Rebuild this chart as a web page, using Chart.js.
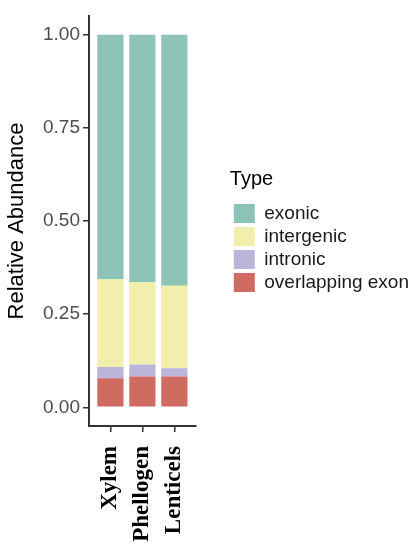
<!DOCTYPE html>
<html>
<head>
<meta charset="utf-8">
<script src="https://cdn.jsdelivr.net/npm/chart.js@4.4.1/dist/chart.umd.min.js"></script>
<style>
  html, body { margin: 0; padding: 0; background: #fff; }
  canvas { display: block; }
</style>
</head>
<body>
<canvas id="typeChart" width="419" height="546"></canvas>
<script>
// Data (fractions per tissue)
const tissues = ["Xylem", "Phellogen", "Lenticels"];
const exonic = [0.656, 0.664, 0.674];
const intergenic = [0.236, 0.221, 0.221];
const intronic = [0.030, 0.032, 0.022];
const overlappingExon = [0.078, 0.083, 0.083];
const yTicks = [0, 0.25, 0.5, 0.75, 1];

const sans = "'Liberation Sans', Arial, Helvetica, sans-serif";
const serif = "'Liberation Serif', 'Times New Roman', serif";

function toPoints(values) {
  return values.map((v, i) => ({ x: i + 1, y: v }));
}

// empty box between plot and legend
const legendGap = {
  id: "legendGap",
  beforeInit(chart) {
    Chart.layouts.addBox(chart, {
      position: "right",
      weight: 0,
      fullSize: false,
      options: {},
      isHorizontal() { return false; },
      update() { this.width = 34; this.height = 0; },
      draw() {}
    });
  }
};

const ctx = document.getElementById("typeChart").getContext("2d");
new Chart(ctx, {
  type: "bar",
  data: {
    datasets: [
      { label: "overlapping exon", data: toPoints(overlappingExon), backgroundColor: "#CF6B61" },
      { label: "intronic", data: toPoints(intronic), backgroundColor: "#B9B6DA" },
      { label: "intergenic", data: toPoints(intergenic), backgroundColor: "#F1EFAB" },
      { label: "exonic", data: toPoints(exonic), backgroundColor: "#8DC2B6" }
    ]
  },
  options: {
    responsive: false,
    animation: false,
    layout: { padding: { top: 16, left: 0, right: 0, bottom: 0 } },
    datasets: {
      bar: { borderWidth: 0, categoryPercentage: 1, barPercentage: 0.82 }
    },
    scales: {
      x: {
        type: "linear",
        stacked: true,
        offset: false,
        min: 0.33,
        max: 3.67,
        afterBuildTicks(scale) {
          scale.ticks = tissues.map((t, i) => ({ value: i + 1 }));
        },
        afterFit(scale) {
          scale.height = 120;
        },
        ticks: {
          autoSkip: false,
          minRotation: 90,
          maxRotation: 90,
          padding: 14,
          color: "#000",
          font: { family: serif, size: 23, weight: "bold" },
          callback: (v) => tissues[v - 1]
        },
        grid: { offset: false, drawOnChartArea: false, tickLength: 6, color: "#333", lineWidth: 1.5 },
        border: { color: "#333", width: 2 }
      },
      y: {
        stacked: true,
        min: -0.05,
        max: 1.05,
        afterBuildTicks(scale) {
          scale.ticks = yTicks.map((v) => ({ value: v }));
        },
        afterFit(scale) {
          scale.width = 89;
        },
        ticks: {
          padding: 3,
          color: "#4d4d4d",
          font: { family: sans, size: 19 },
          callback: (v) => v.toFixed(2)
        },
        title: {
          display: true,
          text: "Relative Abundance",
          color: "#000",
          font: { family: sans, size: 22 },
          padding: { top: 4, bottom: 0 }
        },
        grid: { drawOnChartArea: false, tickLength: 6, color: "#333", lineWidth: 1.5 },
        border: { color: "#333", width: 2 }
      }
    },
    plugins: {
      tooltip: { enabled: false },
      legend: {
        position: "right",
        align: "start",
        fullSize: false,
        reverse: true,
        maxWidth: 220,
        title: {
          display: true,
          text: "Type",
          position: "start",
          color: "#000",
          font: { family: sans, size: 20 },
          padding: { top: 153, bottom: 7 }
        },
        labels: {
          boxWidth: 21,
          boxHeight: 19,
          padding: 4,
          color: "#1a1a1a",
          font: { family: sans, size: 19 }
        }
      }
    }
  },
  plugins: [legendGap]
});
</script>
</body>
</html>
